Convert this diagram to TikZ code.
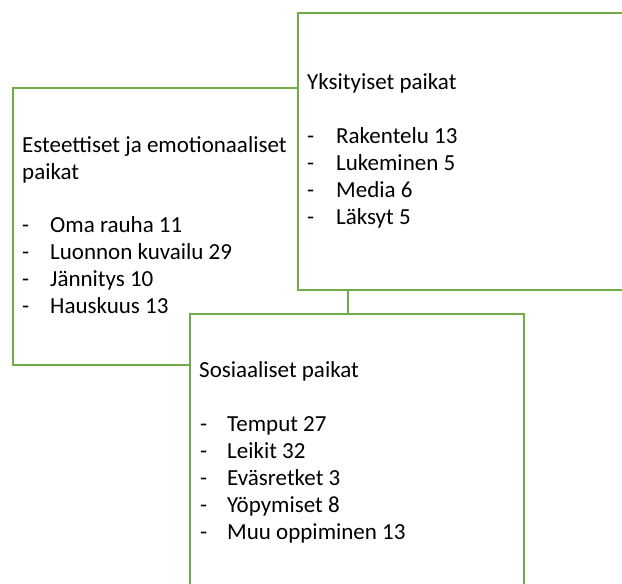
\documentclass[tikz,border=0pt]{standalone}
\usepackage{fontspec}
\setmainfont{Carlito}
\definecolor{boxgreen}{RGB}{112,173,71}

\begin{document}
\begin{tikzpicture}[x=1pt, y=-1pt,
    box/.style={draw=boxgreen, line width=1.6pt, fill=white, inner sep=0pt, anchor=north west},
    txt/.style={anchor=base west, inner sep=0pt, font=\fontsize{23}{27}\selectfont}]
  \useasboundingbox (0,0) rectangle (622,584);
  \clip (0,0) rectangle (622,584);
  \fill[white] (0,0) rectangle (622,584);

  % Esteettiset ja emotionaaliset paikat
  \node[box, minimum width=335pt, minimum height=277pt] (esteettiset) at (12,87) {};
  \node[txt] (est-title1) at (22,152) {Esteettiset ja emotionaaliset};
  \node[txt] (est-title2) at (22,179) {paikat};
  \foreach \t [count=\i] in {Oma rauha 11, Luonnon kuvailu 29, Jännitys 10, Hauskuus 13} {
    \node[txt] (est-dash\i) at (22,{205.8+26.9*\i}) {-};
    \node[txt] (est-item\i) at (50,{205.8+26.9*\i}) {\t};
  }

  % Yksityiset paikat
  \node[box, minimum width=345pt, minimum height=277pt] (yksityiset) at (297,12) {};
  \node[txt] (yks-title) at (307,89.3) {Yksityiset paikat};
  \foreach \t [count=\i] in {Rakentelu 13, Lukeminen 5, Media 6, Läksyt 5} {
    \node[txt] (yks-dash\i) at (307,{116.3+27*\i}) {-};
    \node[txt] (yks-item\i) at (336,{116.3+27*\i}) {\t};
  }

  % Sosiaaliset paikat
  \node[box, minimum width=334pt, minimum height=290pt] (sosiaaliset) at (189,313) {};
  \node[txt] (sos-title) at (199,377) {Sosiaaliset paikat};
  \foreach \t [count=\i] in {Temput 27, Leikit 32, Eväsretket 3, Yöpymiset 8, Muu oppiminen 13} {
    \node[txt] (sos-dash\i) at (200,{404+27*\i}) {-};
    \node[txt] (sos-item\i) at (227,{404+27*\i}) {\t};
  }
\end{tikzpicture}
\end{document}
